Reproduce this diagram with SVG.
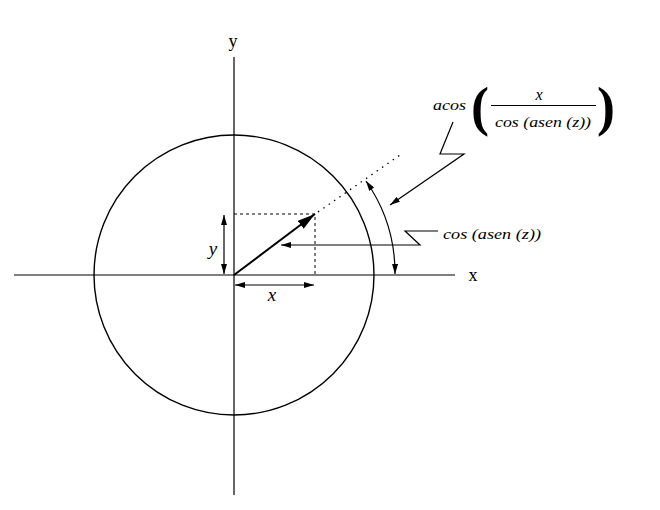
<svg xmlns="http://www.w3.org/2000/svg" width="660" height="510" viewBox="0 0 660 510">
<defs>
<style>
.ln{stroke:#000;stroke-width:1.2;fill:none}
.dash{stroke:#000;stroke-width:1;fill:none;stroke-dasharray:3 3}
.dot{stroke:#000;stroke-width:1.3;fill:none;stroke-dasharray:1.5 5}
text{font-family:'Liberation Serif','DejaVu Serif',serif;fill:#000}
.it{font-style:italic}
</style>
<marker id="ah" viewBox="0 0 10 6" refX="10" refY="3" markerWidth="10" markerHeight="6" markerUnits="userSpaceOnUse" orient="auto-start-reverse">
<path d="M0,0 L10,3 L0,6 Z" fill="#000"/>
</marker>
<marker id="big" viewBox="0 0 18 10" refX="18" refY="5" markerWidth="18" markerHeight="10" markerUnits="userSpaceOnUse" orient="auto">
<path d="M0,0 L18,5 L0,10 Z" fill="#000"/>
</marker>
</defs>
<g id="axes">
<line class="ln" x1="14" y1="275" x2="455" y2="275"/>
<line class="ln" x1="234" y1="57" x2="234" y2="495"/>
<text x="233" y="47" font-size="18" text-anchor="middle" font-family="Liberation Serif, serif">y</text>
<text x="473" y="281" font-size="18" text-anchor="middle" font-family="Liberation Serif, serif">x</text>
</g>
<g id="circle">
<circle cx="234" cy="275" r="140" fill="none" stroke="#000" stroke-width="1.4"/>
</g>
<g id="connectors">
<line x1="234" y1="275" x2="315" y2="214" stroke="#000" stroke-width="2" marker-end="url(#big)"/>
<line class="dot" x1="318" y1="212" x2="400" y2="155"/>
<polyline class="dash" points="234,214 315,214 315,275"/>
<line class="ln" x1="224" y1="215" x2="224" y2="274" marker-start="url(#ah)" marker-end="url(#ah)"/>
<line class="ln" x1="235" y1="285" x2="314" y2="285" marker-start="url(#ah)" marker-end="url(#ah)"/>
<path class="ln" d="M366,181 A161,161 0 0 1 395,274" marker-start="url(#ah)" marker-end="url(#ah)"/>
<polyline class="ln" points="438,231 405,231 420,245 281,245" marker-end="url(#ah)"/>
<polyline class="ln" points="453,122 440,154 464,154 390,205" marker-end="url(#ah)"/>
</g>
<g id="labels">
<text class="it" x="213" y="255" font-size="19" text-anchor="middle">y</text>
<text class="it" x="272" y="301" font-size="19" text-anchor="middle">x</text>
<text class="it" x="443" y="239" font-size="15" textLength="98" lengthAdjust="spacingAndGlyphs">cos (asen (z))</text>
<text class="it" x="433" y="110" font-size="15" textLength="33" lengthAdjust="spacingAndGlyphs">acos</text>
<text x="471" y="125" font-size="54" font-weight="bold">(</text>
<text class="it" x="539" y="100" font-size="16" text-anchor="middle">x</text>
<line x1="491" y1="105.5" x2="596" y2="105.5" stroke="#000" stroke-width="1"/>
<text class="it" x="495" y="127" font-size="15" textLength="96" lengthAdjust="spacingAndGlyphs">cos (asen (z))</text>
<text x="597" y="125" font-size="54" font-weight="bold">)</text>
</g>
</svg>
